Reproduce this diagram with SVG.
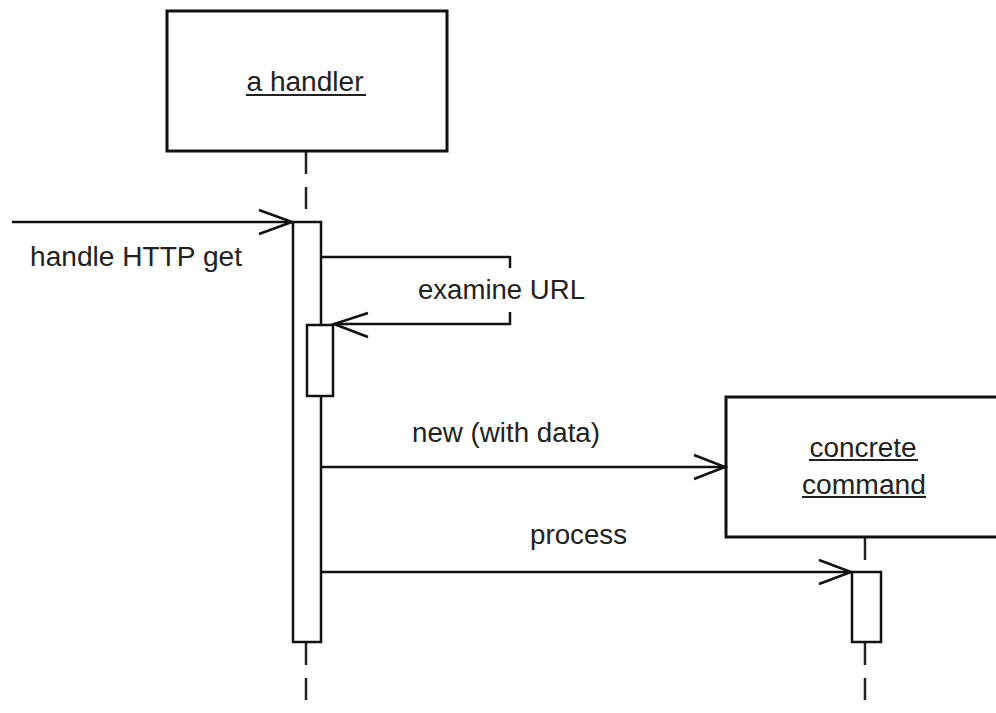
<svg xmlns="http://www.w3.org/2000/svg" width="996" height="713" viewBox="0 0 996 713">
<style>
.box{fill:#fff;stroke:#111;stroke-width:3}
.act{fill:#fff;stroke:#111;stroke-width:2.5}
.ln{fill:none;stroke:#111;stroke-width:2.5}
.dash{fill:none;stroke:#222;stroke-width:2.5;stroke-dasharray:22 13}
.lbl{font-family:"Liberation Sans",Arial,sans-serif;font-size:27px;fill:#222}
.ul{stroke:#222;stroke-width:2}
</style>
<rect width="996" height="713" fill="#fff"/>
<g id="lifelines">
<line class="dash" x1="306" y1="152" x2="306" y2="222"/>
<line class="dash" x1="306" y1="643" x2="306" y2="713"/>
<line class="dash" x1="865" y1="538" x2="865" y2="572"/>
<line class="dash" x1="865" y1="643" x2="865" y2="713"/>
</g>
<g id="handler">
<rect class="box" x="167" y="11" width="280" height="140"/>
<text class="lbl" x="305" y="91" text-anchor="middle" textLength="117" lengthAdjust="spacingAndGlyphs">a handler</text>
<line class="ul" x1="246" y1="95" x2="366" y2="95"/>
</g>
<g id="handler-activation">
<rect class="act" x="293" y="222" width="28" height="420"/>
</g>
<g id="handler-self-activation">
<rect class="act" x="307" y="325" width="26" height="71"/>
</g>
<g id="concrete-command">
<rect class="box" x="726" y="397" width="280" height="140"/>
<text class="lbl" x="863" y="457" text-anchor="middle" textLength="107" lengthAdjust="spacingAndGlyphs">concrete</text>
<line class="ul" x1="809" y1="460" x2="918" y2="460"/>
<text class="lbl" x="864" y="494" text-anchor="middle" textLength="124" lengthAdjust="spacingAndGlyphs">command</text>
<line class="ul" x1="802" y1="497" x2="926" y2="497"/>
</g>
<g id="concrete-activation">
<rect class="act" x="852" y="572" width="29" height="70"/>
</g>
<g id="connectors">
<line class="ln" x1="12" y1="222" x2="292" y2="222"/>
<polyline class="ln" points="259,210 292,222 259,234"/>
<line class="ln" x1="321" y1="257" x2="510" y2="257"/>
<line class="ln" x1="510" y1="256" x2="510" y2="268"/>
<line class="ln" x1="510" y1="312" x2="510" y2="325"/>
<line class="ln" x1="510" y1="324" x2="334" y2="324"/>
<polyline class="ln" points="368,313 334,324 368,337"/>
<line class="ln" x1="321" y1="467" x2="725" y2="467"/>
<polyline class="ln" points="694,455 725,467 694,479"/>
<line class="ln" x1="321" y1="572" x2="851" y2="572"/>
<polyline class="ln" points="819,560 851,572 819,584"/>
</g>
<g id="labels">
<text class="lbl" x="30" y="266" textLength="212" lengthAdjust="spacingAndGlyphs">handle HTTP get</text>
<text class="lbl" x="418" y="299" textLength="167" lengthAdjust="spacingAndGlyphs">examine URL</text>
<text class="lbl" x="412" y="442" textLength="188" lengthAdjust="spacingAndGlyphs">new (with data)</text>
<text class="lbl" x="530" y="544" textLength="97" lengthAdjust="spacingAndGlyphs">process</text>
</g>
</svg>
